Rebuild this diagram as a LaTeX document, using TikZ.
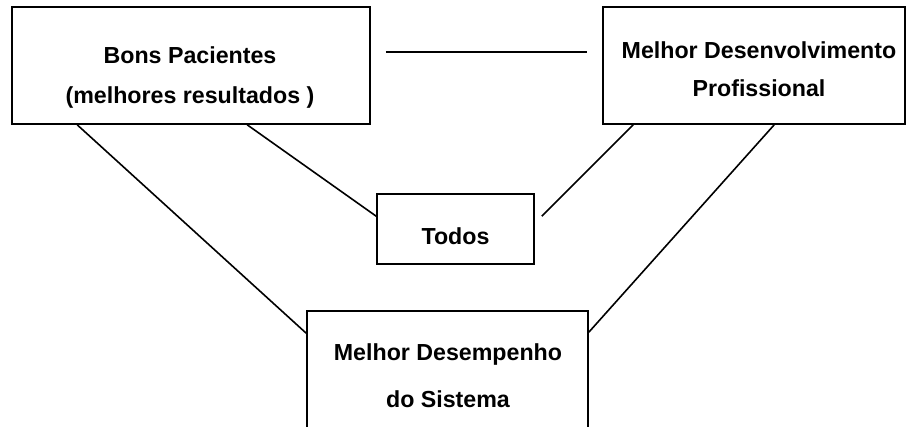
\documentclass[tikz,border=0pt]{standalone}
\usepackage{fontspec}
\setmainfont{Liberation Sans}
\usetikzlibrary{calc}

\begin{document}
\begin{tikzpicture}[x=0.75pt,y=-0.75pt,style=thick]
\tikzstyle{box}=[draw,shape=rectangle,line width=1.2pt,inner sep=0pt]
\tikzstyle{edge} = [draw,line width=1.2pt,-]
\tikzstyle{txt} = [align=center,inner sep=0pt,font=\bfseries\fontsize{17.4}{31.5}\selectfont];

\clip (0,0) rectangle (906,426);

\draw (191,65.5) node[box,minimum width=268.5pt,minimum height=87.75pt] (pac) {};
\draw (754,65.5) node[box,minimum width=226.5pt,minimum height=87.75pt] (prof) {};
\draw (455.5,229) node[box,minimum width=117.75pt,minimum height=52.5pt] (todos) {};
\draw (447.5,380.5) node[box,minimum width=210.75pt,minimum height=104.25pt] (sys) {};

\draw (190,77.5) node[txt] (pactxt) {Bons Pacientes\\[-1.5pt](melhores resultados )};
\draw (759,69) node[txt] (proftxt) {Melhor Desenvolvimento\\[-3pt]Profissional};
\draw (455.5,236) node[txt] (todostxt) {Todos};
\draw (448,376) node[txt] (systxt) {Melhor Desempenho\\[3.75pt]do Sistema};

\coordinate (hl) at ($(pac.north east)+(15,46)$);
\coordinate (hr) at ($(prof.north west)+(-15,46)$);
\coordinate (tr) at ($(todos.north east)+(7,23)$);

\path[edge] (hl) -- (hr);
\path[edge] ($(pac.south west)+(66,0)$) -- ($(sys.north west)+(0,23)$);
\path[edge] ($(pac.south west)+(236,0)$) -- ($(todos.north west)+(0,23)$);
\path[edge] ($(prof.south west)+(31,0)$) -- (tr);
\path[edge] ($(prof.south west)+(172,0)$) -- ($(sys.north east)+(0,22)$);
\end{tikzpicture}
\end{document}
